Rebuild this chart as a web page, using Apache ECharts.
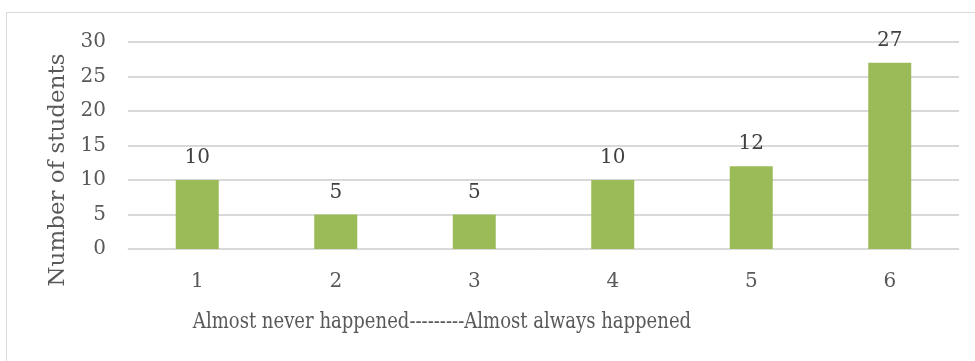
<!DOCTYPE html>
<html>
<head>
<meta charset="utf-8">
<script src="https://cdn.jsdelivr.net/npm/echarts@6/dist/echarts.min.js"></script>
<style>
  html, body { margin: 0; padding: 0; background: #fff; }
  #main { width: 975px; height: 361px; }
</style>
</head>
<body>
<div id="main"></div>
<script>
var categories = ['1', '2', '3', '4', '5', '6'];
var students = [10, 5, 5, 10, 12, 27];
var yTicks = [0, 5, 10, 15, 20, 25, 30];

var FONT = 'DejaVu Serif';
var GREY = '#595959';

function main() {
    var myChart = echarts.init(document.getElementById('main'));

    var option = {
        backgroundColor: '#fff',
        animation: false,
        grid: { left: 128, right: 16, top: 42, bottom: 112 },
        xAxis: {
            type: 'category',
            data: categories,
            axisLine: { lineStyle: { color: '#d9d9d9', width: 1 } },
            axisTick: { show: false },
            axisLabel: { color: GREY, fontFamily: FONT, fontSize: 20, margin: 23 }
        },
        yAxis: {
            type: 'value',
            min: yTicks[0],
            max: yTicks[yTicks.length - 1],
            interval: 5,
            axisLine: { show: false },
            axisTick: { show: false },
            splitLine: { lineStyle: { color: '#d9d9d9', width: 2 } },
            axisLabel: { color: GREY, fontFamily: FONT, fontSize: 20, margin: 22 }
        },
        graphic: [
            {
                type: 'rect',
                shape: { x: 6.5, y: 12.5, width: 1000, height: 400 },
                style: { fill: 'none', stroke: '#d9d9d9', lineWidth: 1 },
                silent: true
            },
            {
                type: 'text',
                x: 58, y: 170,
                rotation: Math.PI / 2,
                style: {
                    text: 'Number of students',
                    fill: GREY, font: '23px "DejaVu Serif"',
                    align: 'center', verticalAlign: 'middle'
                }
            },
            {
                // the reference face is narrower than DejaVu, squeeze it a bit
                type: 'text',
                x: 442, y: 322,
                scaleX: 0.82,
                style: {
                    text: 'Almost never happened---------Almost always happened',
                    fill: GREY, font: '22px "DejaVu Serif"',
                    align: 'center', verticalAlign: 'middle'
                }
            }
        ],
        series: [{
            type: 'bar',
            data: students,
            barWidth: 43,
            itemStyle: { color: '#9bbb59' },
            label: {
                show: true,
                position: 'top',
                distance: 12,
                color: '#404040',
                fontFamily: FONT,
                fontSize: 20
            }
        }]
    };

    myChart.setOption(option);
}

main();
</script>
</body>
</html>
